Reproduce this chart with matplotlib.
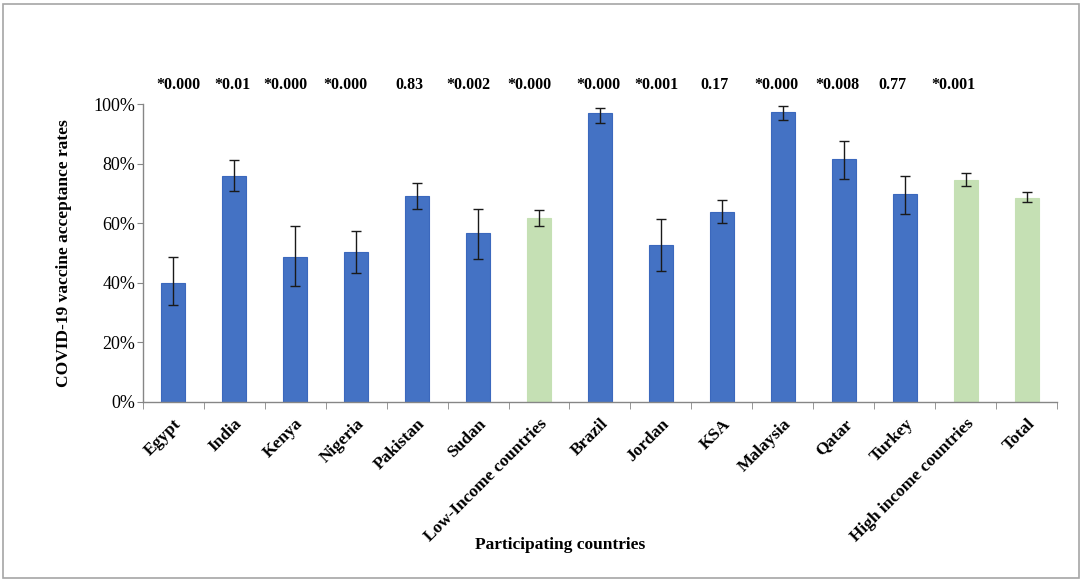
import matplotlib
matplotlib.use("Agg")
import matplotlib.pyplot as plt
from matplotlib.patches import Rectangle
from matplotlib.ticker import FuncFormatter

categories = ["Egypt", "India", "Kenya", "Nigeria", "Pakistan", "Sudan",
              "Low-Income countries", "Brazil", "Jordan", "KSA", "Malaysia",
              "Qatar", "Turkey", "High income countries", "Total"]
values = [40.1, 76.0, 48.8, 50.2, 69.1, 56.6, 61.6, 96.9, 52.6, 63.8, 97.5,
          81.5, 69.7, 74.5, 68.6]
upper = [48.6, 81.1, 59.0, 57.4, 73.6, 64.8, 64.4, 98.7, 61.4, 67.7, 99.4,
         87.7, 75.7, 76.8, 70.4]
lower = [32.4, 70.8, 39.0, 43.3, 64.8, 48.0, 59.0, 93.6, 43.8, 60.2, 94.8,
         74.7, 63.2, 72.5, 67.0]
is_group = [False, False, False, False, False, False, True, False, False,
            False, False, False, False, True, True]
pvalues = ["*0.000", "*0.01", "*0.000", "*0.000", "0.83", "*0.002", "*0.000",
           "*0.000", "*0.001", "0.17", "*0.000", "*0.008", "0.77", "*0.001", ""]
# horizontal nudges of the p-value labels (in category units)
p_offsets = [0.08, -0.03, -0.15, -0.18, -0.13, -0.16, -0.15, -0.02, -0.07,
             -0.13, -0.10, -0.10, -0.21, -0.20, 0.0]

plt.rcParams['font.family'] = ['Liberation Serif', 'DejaVu Serif']

fig = plt.figure(figsize=(10.84, 5.83), dpi=100)
ax = fig.add_axes([0.1315, 0.3105, 0.844, 0.511])

x = list(range(len(categories)))
colors = ["#C5E0B4" if g else "#4472C4" for g in is_group]
edges = ["#C5E0B4" if g else "#3B68BD" for g in is_group]
err_lo = [v - l for v, l in zip(values, lower)]
err_hi = [u - v for v, u in zip(values, upper)]

ax.bar(x, values, width=0.4, color=colors, edgecolor=edges, linewidth=0.8, zorder=2)
ax.errorbar(x, values, yerr=[err_lo, err_hi], fmt='none', ecolor='#1a1a1a',
            elinewidth=1.0, capsize=3.5, capthick=1.0, zorder=3)

ax.set_xlim(-0.5, len(categories) - 0.5)
ax.set_ylim(0, 100)
ax.set_yticks([0, 20, 40, 60, 80, 100])
ax.yaxis.set_major_formatter(FuncFormatter(lambda v, p: f"{int(v)}%"))
ax.tick_params(axis='y', labelsize=13, length=4, color='#868686', direction='out', pad=1)

ax.set_xticks(x)
ax.set_xticklabels(categories, rotation=45, ha='right', rotation_mode='anchor',
                   fontsize=12.5, fontweight='bold')
ax.set_xticks([i - 0.5 for i in range(len(categories) + 1)], minor=True)
ax.tick_params(axis='x', which='major', length=0, pad=10)
ax.tick_params(axis='x', which='minor', length=5, color='#868686', direction='out')

for s in ['top', 'right']:
    ax.spines[s].set_visible(False)
for s in ['left', 'bottom']:
    ax.spines[s].set_color('#868686')
    ax.spines[s].set_linewidth(1.0)

for xi, p, off in zip(x, pvalues, p_offsets):
    if p:
        ax.text(xi + off, 106.5, p, ha='center', va='center', fontsize=11.5,
                fontweight='bold', clip_on=False)

ax.set_ylabel("COVID-19 vaccine acceptance rates", fontsize=12.5, fontweight='bold', labelpad=16)
fig.text(0.517, 0.066, "Participating countries", ha='center', va='center',
         fontsize=12.5, fontweight='bold')

fig.patches.append(Rectangle((0.003, 0.008), 0.992, 0.985, transform=fig.transFigure,
                             fill=False, edgecolor='#A6A6A6', linewidth=1.2))

fig.savefig("out.png", dpi=100)
